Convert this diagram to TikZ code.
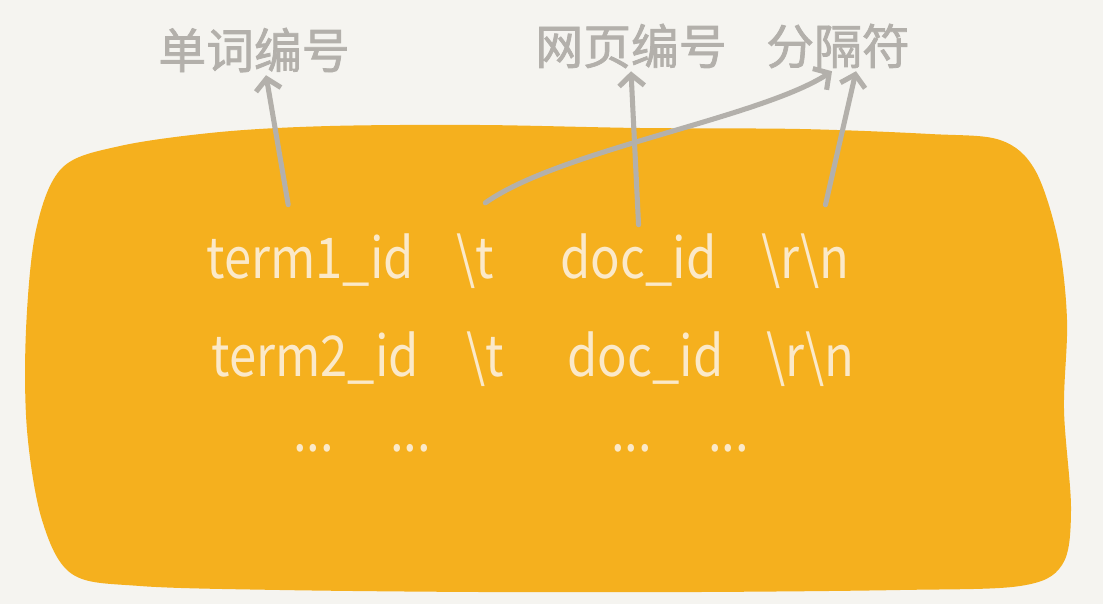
\documentclass[tikz,border=0pt]{standalone}
\usepackage{fontspec}
\setmainfont{Noto Sans CJK SC}
\newfontfamily\codefont[FakeStretch=0.87]{Noto Sans CJK SC}
\newfontfamily\labelfont[FakeBold=1.6]{Noto Sans CJK SC}
\usepackage{tikz}
\usetikzlibrary{arrows.meta}
\usetikzlibrary{positioning}
\definecolor{paper}{HTML}{F5F4F0}
\definecolor{blobcol}{HTML}{F5B01E}
\definecolor{chalk}{HTML}{FBE9C9}
\definecolor{pencil}{HTML}{B3B0AB}

\begin{document}
\begin{tikzpicture}[x=0.025cm,y=-0.025cm,>={Straight Barb[length=8pt,width=18pt,line width=3.6pt]},
    code node/.style={anchor=base west,inner sep=3pt,text=chalk,font=\codefont\fontsize{40}{48}\selectfont},
    label node/.style={inner sep=2pt,text=pencil,font=\labelfont\fontsize{34}{40}\selectfont},
    pointer/.style={->,draw=pencil,line width=3.6pt,line cap=round,line join=round}]
   \fill[paper] (0,0) rectangle (1103,604);
   % the orange blob
   \fill[blobcol] plot[smooth cycle,tension=0.55] coordinates {
      (62,168) (120,146) (220,132) (330,126) (480,125) (640,128) (800,129)
      (930,134) (1000,140) (1035,170) (1058,240) (1067,320) (1064,410)
      (1071,510) (1062,565) (1020,586) (900,590) (700,592) (480,592)
      (280,590) (140,586) (72,574) (42,520) (27,430) (26,330) (36,230)};
   \begin{scope}
     \node[label node] (wordid) at (254,50) {单词编号};
     \node[label node] (pageid) at (631,46) {网页编号};
     \node[label node] (sepsym) at (838,46) {分隔符};
     % first line
     \node[code node] (term1) at (202,278) {term1\_id};
     \node[code node] (tab1) at (452,278) {\textbackslash t};
     \node[code node] (doc1) at (556,278) {doc\_id};
     \node[code node] (crlf1) at (757,278) {\textbackslash r\textbackslash n};
     % second line
     \node[code node] (term2) at (207,376) {term2\_id};
     \node[code node] (tab2) at (462,376) {\textbackslash t};
     \node[code node] (doc2) at (563,376) {doc\_id};
     \node[code node] (crlf2) at (762,376) {\textbackslash r\textbackslash n};
     % more lines
     \node[code node,anchor=center] (dots1) at (362,448) {...\quad...};
     \node[code node,anchor=center] (dots2) at (680,448) {...\quad...};
      \draw[pointer] ([xshift=-0.55cm,yshift=0.6cm]term1.north) -- ([xshift=0.3cm]wordid.south);
      \draw[pointer] ([yshift=0.1cm]doc1.north) -- (pageid.south);
      \draw[pointer] ([xshift=0.25cm,yshift=0.65cm]tab1.north) .. controls (560,150) and (760,118) .. ([xshift=-0.15cm]sepsym.south);
      \draw[pointer] ([xshift=0.5cm,yshift=0.6cm]crlf1.north) -- ([xshift=0.45cm]sepsym.south);
   \end{scope}
\end{tikzpicture}
\end{document}
